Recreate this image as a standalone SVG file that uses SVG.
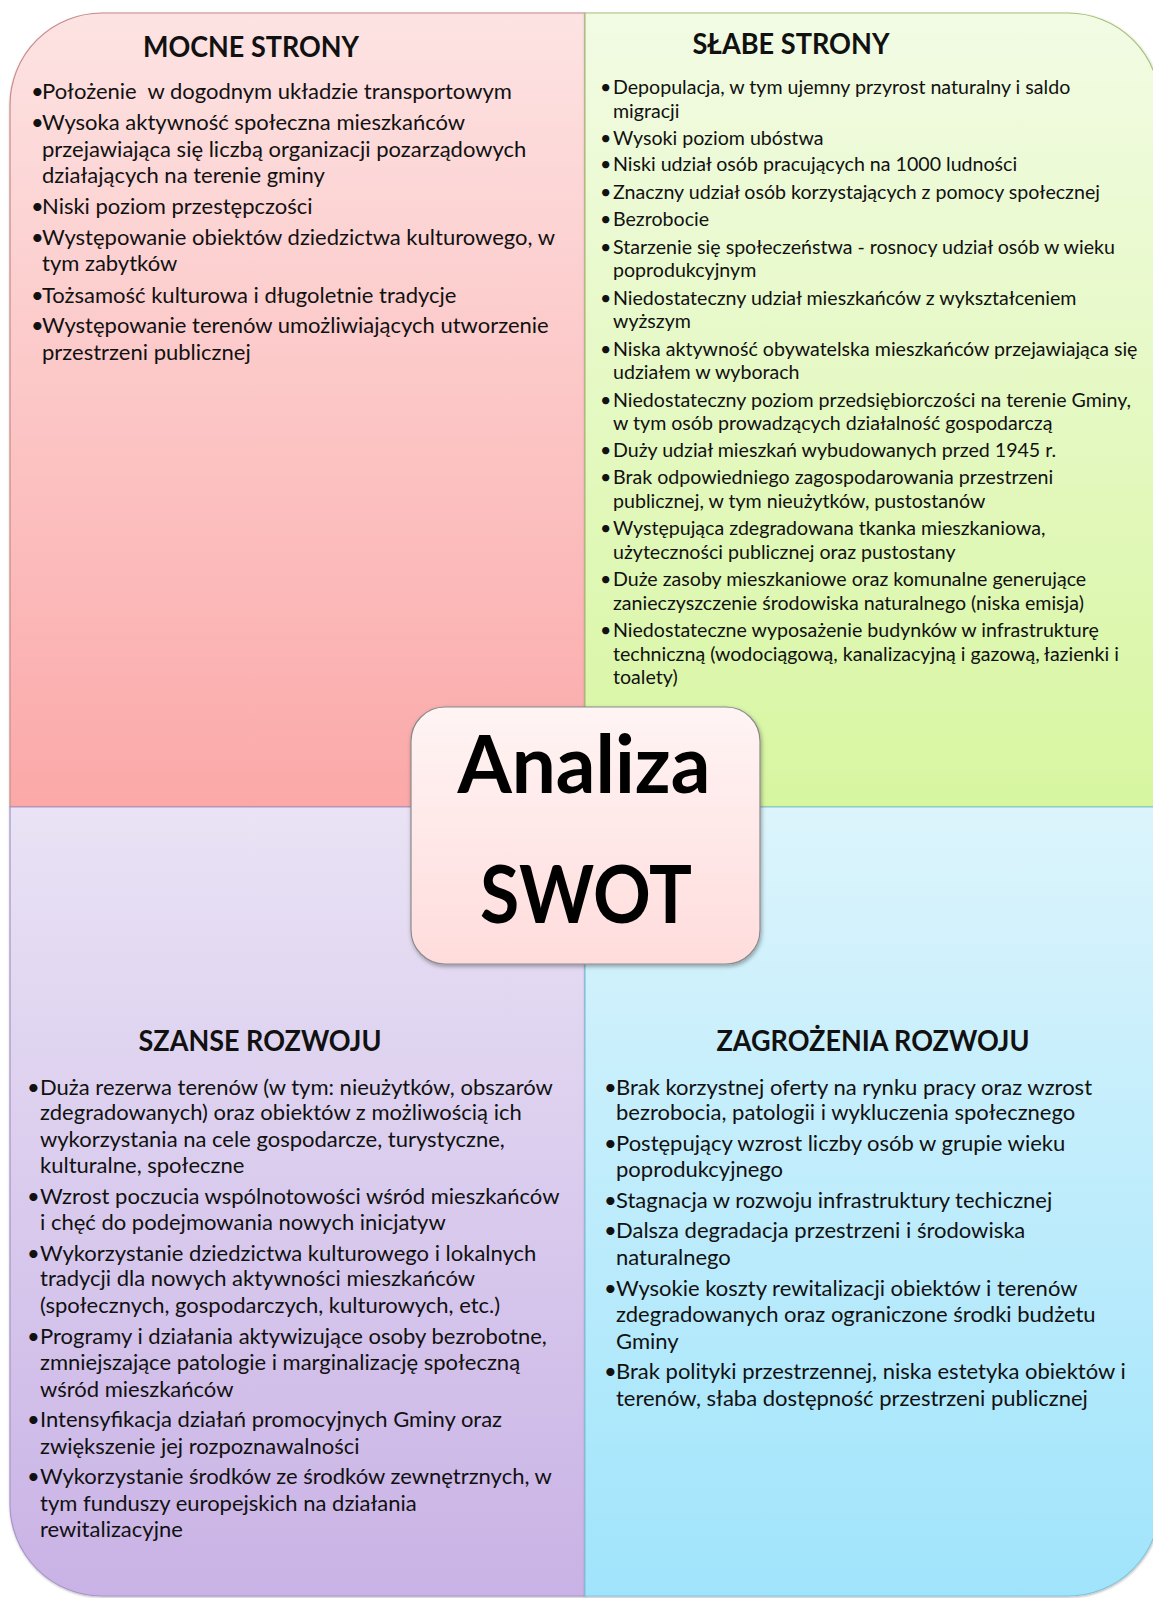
<svg xmlns="http://www.w3.org/2000/svg" width="1153" height="1598" viewBox="0 0 1153 1598">
<style>
text{white-space:pre}
.t{font-family:Lato,"Liberation Sans",sans-serif;fill:#111}
.h{font-family:Lato,"Liberation Sans",sans-serif;font-weight:700;font-size:28px;fill:#111;text-anchor:middle}
.b{font-size:22px}
.s{font-size:19.6px}
.big{font-family:Lato,"Liberation Sans",sans-serif;font-weight:700;font-size:80px;fill:#000;text-anchor:middle}
.q{filter:url(#qs)}
</style>
<defs>
<linearGradient id="gTL" x1="0" y1="0" x2="0" y2="1"><stop offset="0" stop-color="#fde3e3"/><stop offset="1" stop-color="#fba8a8"/></linearGradient>
<linearGradient id="gTR" x1="0" y1="0" x2="0" y2="1"><stop offset="0" stop-color="#f2fbe4"/><stop offset="1" stop-color="#d7f6a0"/></linearGradient>
<linearGradient id="gBL" x1="0" y1="0" x2="0" y2="1"><stop offset="0" stop-color="#e9e3f5"/><stop offset="1" stop-color="#c9b2e5"/></linearGradient>
<linearGradient id="gBR" x1="0" y1="0" x2="0" y2="1"><stop offset="0" stop-color="#dcf4fc"/><stop offset="1" stop-color="#a0e4fb"/></linearGradient>
<linearGradient id="gC" x1="0" y1="0" x2="0" y2="1"><stop offset="0" stop-color="#fff4f4"/><stop offset="1" stop-color="#ffdcdc"/></linearGradient>
<filter id="sh" x="-5%" y="-5%" width="110%" height="110%"><feDropShadow dx="1" dy="2" stdDeviation="2" flood-color="#000" flood-opacity="0.35"/></filter>
<filter id="qs" x="-3%" y="-3%" width="106%" height="106%"><feDropShadow dx="0.5" dy="1" stdDeviation="1" flood-color="#000" flood-opacity="0.3"/></filter>
</defs>

<g id="mocne">
<path class="q" d="M10,105 A92,92 0 0 1 102,13 L585,13 L585,807 L10,807 Z" fill="url(#gTL)" stroke="#c98a8a" stroke-width="1.2"/>
<text class="h" x="251" y="57" textLength="216" lengthAdjust="spacingAndGlyphs">MOCNE STRONY</text>
<g class="t b">
<text x="31" y="99">•</text><text x="42" y="99">Położenie  w dogodnym układzie transportowym</text>
<text x="31" y="130">•</text><text x="42" y="130">Wysoka aktywność społeczna mieszkańców</text>
<text x="42" y="157">przejawiająca się liczbą organizacji pozarządowych</text>
<text x="42" y="183">działających na terenie gminy</text>
<text x="31" y="214">•</text><text x="42" y="214">Niski poziom przestępczości</text>
<text x="31" y="245">•</text><text x="42" y="245">Występowanie obiektów dziedzictwa kulturowego, w</text>
<text x="42" y="271">tym zabytków</text>
<text x="31" y="303">•</text><text x="42" y="303">Tożsamość kulturowa i długoletnie tradycje</text>
<text x="31" y="333">•</text><text x="42" y="333">Występowanie terenów umożliwiających utworzenie</text>
<text x="42" y="360">przestrzeni publicznej</text>
</g>
</g>

<g id="slabe">
<path class="q" d="M585,13 L1068,13 A92,92 0 0 1 1160,105 L1160,807 L585,807 Z" fill="url(#gTR)" stroke="#a9c27a" stroke-width="1.2"/>
<text class="h" x="791" y="54" textLength="197" lengthAdjust="spacingAndGlyphs">SŁABE STRONY</text>
<g class="t s">
<text x="600" y="94">•</text><text x="613" y="94">Depopulacja, w tym ujemny przyrost naturalny i saldo</text>
<text x="613" y="118">migracji</text>
<text x="600" y="145">•</text><text x="613" y="145">Wysoki poziom ubóstwa</text>
<text x="600" y="171">•</text><text x="613" y="171">Niski udział osób pracujących na 1000 ludności</text>
<text x="600" y="199">•</text><text x="613" y="199">Znaczny udział osób korzystających z pomocy społecznej</text>
<text x="600" y="226">•</text><text x="613" y="226">Bezrobocie</text>
<text x="600" y="254">•</text><text x="613" y="254">Starzenie się społeczeństwa - rosnocy udział osób w wieku</text>
<text x="613" y="277">poprodukcyjnym</text>
<text x="600" y="305">•</text><text x="613" y="305">Niedostateczny udział mieszkańców z wykształceniem</text>
<text x="613" y="328">wyższym</text>
<text x="600" y="356">•</text><text x="613" y="356">Niska aktywność obywatelska mieszkańców przejawiająca się</text>
<text x="613" y="379">udziałem w wyborach</text>
<text x="600" y="407">•</text><text x="613" y="407">Niedostateczny poziom przedsiębiorczości na terenie Gminy,</text>
<text x="613" y="430">w tym osób prowadzących działalność gospodarczą</text>
<text x="600" y="457">•</text><text x="613" y="457">Duży udział mieszkań wybudowanych przed 1945 r.</text>
<text x="600" y="484">•</text><text x="613" y="484">Brak odpowiedniego zagospodarowania przestrzeni</text>
<text x="613" y="508">publicznej, w tym nieużytków, pustostanów</text>
<text x="600" y="535">•</text><text x="613" y="535">Występująca zdegradowana tkanka mieszkaniowa,</text>
<text x="613" y="559">użyteczności publicznej oraz pustostany</text>
<text x="600" y="586">•</text><text x="613" y="586">Duże zasoby mieszkaniowe oraz komunalne generujące</text>
<text x="613" y="610">zanieczyszczenie środowiska naturalnego (niska emisja)</text>
<text x="600" y="637">•</text><text x="613" y="637">Niedostateczne wyposażenie budynków w infrastrukturę</text>
<text x="613" y="661">techniczną (wodociągową, kanalizacyjną i gazową, łazienki i</text>
<text x="613" y="684">toalety)</text>
</g>
</g>

<g id="szanse">
<path class="q" d="M10,807 L585,807 L585,1596 L102,1596 A92,92 0 0 1 10,1504 Z" fill="url(#gBL)" stroke="#a795c9" stroke-width="1.2"/>
<text class="h" x="260" y="1051" textLength="243" lengthAdjust="spacingAndGlyphs">SZANSE ROZWOJU</text>
<g class="t b">
<text x="27" y="1095">•</text><text x="40" y="1095">Duża rezerwa terenów (w tym: nieużytków, obszarów</text>
<text x="40" y="1120">zdegradowanych) oraz obiektów z możliwością ich</text>
<text x="40" y="1147">wykorzystania na cele gospodarcze, turystyczne,</text>
<text x="40" y="1173">kulturalne, społeczne</text>
<text x="27" y="1204">•</text><text x="40" y="1204">Wzrost poczucia wspólnotowości wśród mieszkańców</text>
<text x="40" y="1230">i chęć do podejmowania nowych inicjatyw</text>
<text x="27" y="1261">•</text><text x="40" y="1261">Wykorzystanie dziedzictwa kulturowego i lokalnych</text>
<text x="40" y="1286">tradycji dla nowych aktywności mieszkańców</text>
<text x="40" y="1313">(społecznych, gospodarczych, kulturowych, etc.)</text>
<text x="27" y="1344">•</text><text x="40" y="1344">Programy i działania aktywizujące osoby bezrobotne,</text>
<text x="40" y="1370">zmniejszające patologie i marginalizację społeczną</text>
<text x="40" y="1397">wśród mieszkańców</text>
<text x="27" y="1427">•</text><text x="40" y="1427">Intensyfikacja działań promocyjnych Gminy oraz</text>
<text x="40" y="1454">zwiększenie jej rozpoznawalności</text>
<text x="27" y="1484">•</text><text x="40" y="1484">Wykorzystanie środków ze środków zewnętrznych, w</text>
<text x="40" y="1511">tym funduszy europejskich na działania</text>
<text x="40" y="1537">rewitalizacyjne</text>
</g>
</g>

<g id="zagrozenia">
<path class="q" d="M585,807 L1160,807 L1160,1504 A92,92 0 0 1 1068,1596 L585,1596 Z" fill="url(#gBR)" stroke="#7fc6dd" stroke-width="1.2"/>
<text class="h" x="873" y="1051" textLength="313" lengthAdjust="spacingAndGlyphs">ZAGROŻENIA ROZWOJU</text>
<g class="t b">
<text x="604" y="1095">•</text><text x="616" y="1095">Brak korzystnej oferty na rynku pracy oraz wzrost</text>
<text x="616" y="1120">bezrobocia, patologii i wykluczenia społecznego</text>
<text x="604" y="1151">•</text><text x="616" y="1151">Postępujący wzrost liczby osób w grupie wieku</text>
<text x="616" y="1177">poprodukcyjnego</text>
<text x="604" y="1208">•</text><text x="616" y="1208">Stagnacja w rozwoju infrastruktury techicznej</text>
<text x="604" y="1238">•</text><text x="616" y="1238">Dalsza degradacja przestrzeni i środowiska</text>
<text x="616" y="1265">naturalnego</text>
<text x="604" y="1296">•</text><text x="616" y="1296">Wysokie koszty rewitalizacji obiektów i terenów</text>
<text x="616" y="1322">zdegradowanych oraz ograniczone środki budżetu</text>
<text x="616" y="1349">Gminy</text>
<text x="604" y="1379">•</text><text x="616" y="1379">Brak polityki przestrzennej, niska estetyka obiektów i</text>
<text x="616" y="1406">terenów, słaba dostępność przestrzeni publicznej</text>
</g>
</g>

<g id="center">
<rect x="411" y="707" width="349" height="257" rx="34" ry="34" fill="url(#gC)" stroke="#8a8a8a" stroke-width="1.2" filter="url(#sh)"/>
<text class="big" x="584" y="793" textLength="253" lengthAdjust="spacingAndGlyphs">Analiza</text>
<text class="big" x="586" y="923" textLength="212" lengthAdjust="spacingAndGlyphs">SWOT</text>
</g>

<g id="connectors"></g>
</svg>
